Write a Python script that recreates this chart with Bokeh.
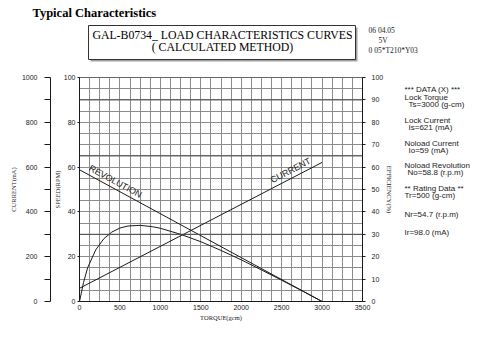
from bokeh.plotting import figure
from bokeh.layouts import column, row
from bokeh.models import Range1d, LinearAxis, FixedTicker, Span, SingleIntervalTicker
from bokeh.core.properties import value
from bokeh.embed import file_html
from bokeh.resources import INLINE

# ---- data ----
torque_line = [0, 3000]                 # g-cm
revolution = [58.8, 0]                  # rpm
current_ma = [59, 621]                  # mA
torque_eff = [0, 50, 100, 200, 300, 400, 500, 600, 750, 900, 1000, 1250,
              1500, 1750, 2000, 2250, 2500, 2750, 3000]
efficiency = [0, 8.5, 15, 23, 28, 31, 32.8, 33.7, 34, 33.4, 32.7, 30,
              26.7, 22.8, 18.6, 14.1, 9.5, 4.8, 0]
x_ticks = [0, 500, 1000, 1500, 2000, 2500, 3000, 3500]
speed_ticks = [0, 20, 40, 60, 80, 100]
current_ticks = [0, 200, 400, 600, 800, 1000]
current_minor = [100, 300, 500, 700, 900]
eff_ticks = [0, 10, 20, 30, 40, 50, 60, 70, 80, 90, 100]
data_lines = ["*** DATA (X) ***", "Lock Torque", "Ts=3000 (g-cm)",
              "Lock Current", "Is=621 (mA)", "Noload Current", "Io=59 (mA)",
              "Noload Revolution", "No=58.8 (r.p.m)", "** Rating Data **",
              "Tr=500 (g-cm)", "Nr=54.7 (r.p.m)", "Ir=98.0 (mA)"]
data_indent = [0, 0, 4, 0, 4, 0, 4, 0, 3, 0, 0, 0, 0]
data_y = [87, 97, 106, 125, 134, 153, 162, 181, 190, 209, 218, 241, 264]
title_main = ["GAL-B0734_ LOAD CHARACTERISTICS CURVES", "( CALCULATED METHOD)"]
stamp_lines = ["06 04.05", "5V", "0 05*T210*Y03"]

SERIF = "Liberation Serif"
SANS = "Liberation Sans"
INK = "#1a1a1a"
HEAD_H = 72


def blank(width, height, x0, x1, y0, y1):
    f = figure(width=width, height=height, output_backend="svg",
               toolbar_location=None, x_range=Range1d(x0, x1),
               y_range=Range1d(y1, y0), min_border=0,
               x_axis_location=None, y_axis_location=None)
    f.outline_line_color = None
    f.xgrid.visible = False
    f.ygrid.visible = False
    f.background_fill_color = "white"
    f.border_fill_color = "white"
    return f


# ---- header ----
head = blank(485, HEAD_H, 0, 485, 0, HEAD_H)
head.text(x=[32], y=[12], text=["Typical Characteristics"], text_font=value(SERIF),
          text_font_size="12.5px", text_font_style="bold", text_color="black",
          text_baseline="middle")
head.quad(left=[90], right=[357], top=[27], bottom=[61], fill_color="#a0a0a0",
          line_color=None)
head.quad(left=[88], right=[355], top=[25], bottom=[59], fill_color="white",
          line_color="#333333", line_width=1)
head.text(x=[222, 222], y=[34, 46], text=title_main, text_font=value(SERIF),
          text_font_size="11.8px", text_color="black", text_align="center",
          text_baseline="middle")
head.text(x=[368, 378, 368], y=[30, 40, 50], text=stamp_lines, text_font=value(SERIF),
          text_font_size="7.5px", text_color=INK, text_baseline="middle")

# ---- main chart ----
p = figure(width=400, height=349 - HEAD_H, output_backend="svg", toolbar_location=None,
           x_range=Range1d(0, 3500), y_range=Range1d(0, 100),
           min_border_left=79, min_border_right=38, min_border_top=77 - HEAD_H,
           min_border_bottom=48, y_axis_location=None, x_axis_location=None)
p.extra_y_ranges = {"current": Range1d(0, 1000), "eff": Range1d(0, 100)}
p.outline_line_color = "#666666"
p.background_fill_color = "white"
p.border_fill_color = "white"


def style_axis(ax, ticks, title, lab_standoff, title_standoff, tick_out):
    ax.ticker = FixedTicker(ticks=ticks)
    ax.axis_label = title
    ax.axis_label_text_font = SERIF
    ax.axis_label_text_font_size = "6.5px"
    ax.axis_label_text_font_style = "normal"
    ax.axis_label_text_color = INK
    ax.axis_label_standoff = title_standoff
    ax.major_label_text_font = SANS
    ax.major_label_text_font_size = "7px"
    ax.major_label_text_color = INK
    ax.major_label_standoff = lab_standoff
    ax.axis_line_color = INK
    ax.major_tick_line_color = INK
    ax.major_tick_in = 0
    ax.major_tick_out = tick_out
    ax.minor_tick_line_color = None


xax = LinearAxis()
style_axis(xax, x_ticks, "TORQUE(gcm)", 3, 1, 0)
p.add_layout(xax, "below")

sax = LinearAxis()
style_axis(sax, speed_ticks, "SPEED(RPM)", 2, 0, 2)
p.add_layout(sax, "left")

cax = LinearAxis(y_range_name="current")
style_axis(cax, current_ticks, "CURRENT(mA)", 7, 2, 6)
cax.ticker = FixedTicker(ticks=current_ticks, minor_ticks=current_minor)
cax.minor_tick_line_color = INK
cax.minor_tick_in = 0
cax.minor_tick_out = 6
p.add_layout(cax, "left")

eax = LinearAxis(y_range_name="eff")
style_axis(eax, eff_ticks, "EFFICIENCY(%)", 6, 0, 3)
p.add_layout(eax, "right")

p.xgrid.ticker = SingleIntervalTicker(interval=125)
p.ygrid.ticker = SingleIntervalTicker(interval=5)
for g in (p.xgrid, p.ygrid):
    g.grid_line_color = "#8c8c8c"
    g.grid_line_width = 1
for yv in (90, 65, 30):
    p.add_layout(Span(location=yv, dimension="width", line_color="#4a4a4a",
                      line_width=1))

p.line(torque_line, revolution, line_color=INK, line_width=1)
p.line(torque_line, current_ma, y_range_name="current", line_color=INK, line_width=1)
p.line(torque_eff, efficiency, y_range_name="eff", line_color=INK, line_width=1)

p.text(x=[445], y=[53.6], text=["REVOLUTION"], angle=-0.497,
       text_font=value(SANS), text_font_size="9px", text_color=INK,
       text_align="center", text_baseline="middle")
p.text(x=[2610], y=[58.5], text=["CURRENT"], angle=0.478,
       text_font=value(SANS), text_font_size="9px", text_color=INK,
       text_align="center", text_baseline="middle")

# ---- side data panel ----
side = blank(85, 349 - HEAD_H, 400, 485, HEAD_H, 349)
side.text(x=[404 + d for d in data_indent], y=data_y, text=data_lines,
          text_font=value(SANS), text_font_size="8px", text_color=INK,
          text_baseline="middle")

layout = column(head, row(p, side, spacing=0), spacing=0)
open("out.html", "w").write(file_html(layout, INLINE))
